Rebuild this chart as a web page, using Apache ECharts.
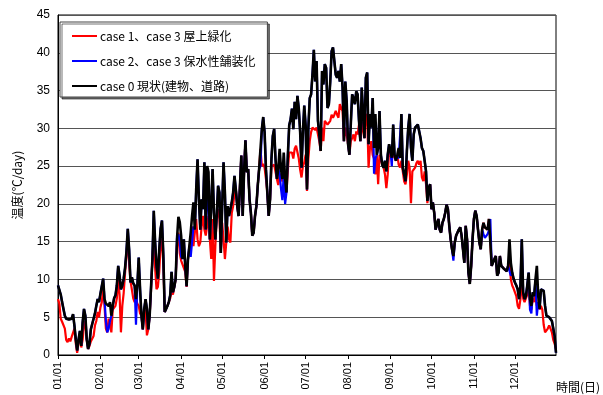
<!DOCTYPE html>
<html>
<head>
<meta charset="utf-8">
<script src="https://cdn.jsdelivr.net/npm/echarts@6/dist/echarts.min.js"></script>
<style>
html,body{margin:0;padding:0;background:#fff;}
#chart{width:603px;height:395px;}
</style>
</head>
<body>
<div id="chart"></div>
<script>
// Daily temperature index (℃/day) over one year, three scenarios.
const monthDays = [31, 28, 31, 30, 31, 30, 31, 31, 30, 31, 30, 31];
const days = [];
monthDays.forEach(function (n, m) {
  for (let d = 1; d <= n; d++) {
    days.push(String(m + 1).padStart(2, '0') + '/' + String(d).padStart(2, '0'));
  }
});

const seriesNames = [
  'case 1、case 3 屋上緑化',
  'case 2、case 3 保水性舗装化',
  'case 0 現状(建物、道路)'
];

// case 0: current state (buildings, roads)
const case0 = [
  9.2, 9.0, 8.0, 7.0, 6.1, 5.2, 4.8, 4.6, 4.7, 4.5,
  4.8, 5.4, 3.9, 2.1, 0.6, 2.0, 3.2, 1.2, 4.3, 6.1,
  5.2, 2.1, 0.8, 1.5, 3.4, 4.1, 4.8, 5.5, 6.5, 7.4,
  7.0, 8.1, 7.9, 10.1, 7.4, 6.8, 7.0, 6.5, 7.0, 5.2,
  6.5, 7.5, 7.9, 9.2, 11.8, 10.5, 8.7, 9.2, 10.1, 11.5,
  13.6, 16.7, 14.0, 9.6, 10.3, 9.5, 9.2, 7.4, 9.2, 12.9,
  8.7, 5.2, 3.4, 6.1, 7.4, 6.1, 3.4, 5.2, 9.0, 12.7,
  19.1, 14.9, 11.8, 10.1, 14.0, 16.7, 17.8, 13.2, 5.7, 5.7,
  6.5, 7.0, 7.9, 11.0, 8.3, 9.0, 10.1, 15.4, 18.3, 17.6,
  15.8, 12.7, 15.3, 11.8, 9.1, 12.7, 14.4, 16.2, 18.4, 20.2,
  16.6, 21.9, 25.9, 20.6, 16.6, 20.6, 19.3, 25.5, 16.6, 25.0,
  24.2, 15.3, 19.7, 24.6, 18.8, 15.3, 18.4, 22.4, 21.5, 13.5,
  19.7, 25.5, 21.5, 14.9, 19.7, 18.4, 19.3, 20.2, 21.5, 23.7,
  21.9, 19.7, 18.4, 22.4, 26.4, 18.4, 24.2, 28.4, 24.2, 24.6,
  20.6, 18.8, 15.8, 16.2, 18.4, 19.7, 22.4, 24.6, 27.3, 29.9,
  31.5, 29.5, 24.6, 21.5, 18.4, 20.6, 25.9, 29.0, 29.9, 25.9,
  23.3, 24.6, 27.3, 24.6, 23.3, 26.8, 23.3, 21.5, 26.4, 30.4,
  31.2, 32.6, 29.9, 33.5, 31.2, 34.3, 32.6, 29.5, 24.8, 29.5,
  33.0, 30.4, 21.9, 30.1, 34.0, 34.5, 37.1, 40.4, 36.2, 38.9,
  31.0, 29.2, 27.0, 37.6, 35.8, 38.5, 38.0, 32.7, 33.2, 36.2,
  40.2, 40.7, 38.9, 37.1, 36.7, 37.6, 36.2, 38.5, 35.4, 28.3,
  36.2, 33.6, 27.9, 26.5, 30.5, 34.5, 34.0, 33.2, 34.9, 34.5,
  31.0, 28.3, 35.4, 31.9, 28.7, 36.7, 37.4, 27.9, 31.9, 30.1,
  34.0, 27.4, 31.9, 26.5, 27.4, 32.3, 26.5, 25.2, 24.8, 25.7,
  24.3, 26.5, 27.9, 27.0, 26.1, 30.5, 26.5, 25.7, 26.5, 27.4,
  26.1, 31.9, 24.8, 23.9, 23.0, 27.0, 30.1, 31.9, 27.4, 25.7,
  29.2, 30.1, 30.3, 30.5, 30.5, 28.7, 27.4, 27.0, 25.7, 24.3,
  20.4, 22.1, 22.6, 19.3, 20.2, 18.8, 16.6, 16.4, 18.0, 16.6,
  16.2, 17.5, 18.0, 18.8, 19.9, 19.3, 17.1, 15.3, 14.0, 13.1,
  14.9, 15.8, 15.8, 16.6, 16.9, 15.8, 14.0, 12.2, 17.1, 15.3,
  10.9, 9.4, 11.8, 15.3, 18.0, 19.1, 18.4, 16.6, 14.9, 14.0,
  16.6, 17.5, 16.9, 16.9, 16.6, 18.0, 18.0, 11.8, 11.6, 12.7,
  13.1, 10.5, 10.9, 13.1, 11.8, 11.6, 11.4, 11.4, 11.1, 11.8,
  15.3, 12.2, 10.9, 10.1, 9.6, 9.2, 8.7, 7.4, 9.2, 15.3,
  8.3, 7.4, 7.8, 9.2, 10.9, 7.4, 6.5, 8.3, 7.8, 10.0,
  11.8, 7.8, 6.1, 8.7, 8.5, 8.5, 6.5, 5.2, 5.0, 5.0,
  4.8, 4.5, 4.7, 2.5, 0.3
];

// case 1 + case 3: rooftop greening
const case1 = [
  7.4, 6.8, 4.8, 4.4, 4.3, 3.5, 2.0, 1.7, 2.2, 1.8,
  2.4, 2.5, 3.5, 1.5, 0.3, 0.4, 2.8, 1.0, 2.0, 4.0,
  4.5, 2.0, 0.8, 1.2, 1.8, 2.0, 2.5, 3.9, 4.5, 5.7,
  5.0, 6.3, 7.0, 8.8, 6.5, 3.5, 3.0, 4.8, 4.0, 3.0,
  6.0, 6.2, 6.5, 7.5, 10.0, 8.0, 3.0, 6.5, 8.2, 10.8,
  13.2, 15.4, 12.0, 9.8, 10.0, 7.5, 7.0, 7.4, 6.8, 6.5,
  5.5, 5.2, 3.4, 6.1, 5.8, 2.6, 3.4, 5.2, 8.5, 12.5,
  15.8, 11.5, 8.7, 9.0, 11.0, 14.5, 15.4, 12.0, 5.7, 5.7,
  6.5, 7.0, 7.5, 8.5, 8.0, 9.0, 10.0, 14.5, 16.2, 13.5,
  12.5, 12.0, 11.8, 11.0, 9.0, 12.7, 12.7, 15.3, 17.0, 14.4,
  16.2, 18.0, 15.3, 14.4, 14.9, 17.1, 18.4, 16.6, 15.8, 17.1,
  18.4, 15.3, 12.7, 18.0, 9.8, 14.4, 18.4, 19.3, 18.0, 13.5,
  17.5, 15.3, 12.7, 14.9, 17.0, 15.3, 14.9, 18.8, 19.7, 21.5,
  21.9, 19.7, 18.4, 22.4, 26.4, 18.4, 24.2, 28.4, 24.2, 24.6,
  20.6, 18.8, 15.8, 16.2, 18.4, 19.7, 22.4, 24.6, 27.3, 25.0,
  25.3, 24.8, 23.3, 21.5, 18.4, 20.6, 25.0, 25.0, 25.2, 24.2,
  23.3, 22.5, 24.0, 23.3, 23.0, 23.5, 22.5, 21.5, 24.5, 26.8,
  26.8, 26.8, 26.0, 27.3, 27.7, 27.7, 26.0, 24.5, 23.5, 25.0,
  25.5, 26.5, 21.7, 26.0, 28.3, 29.5, 30.1, 30.3, 29.8, 30.1,
  29.2, 28.3, 27.0, 30.1, 28.3, 31.0, 31.0, 30.5, 30.5, 31.0,
  31.8, 31.4, 31.8, 32.3, 31.8, 31.4, 33.2, 32.7, 32.3, 28.3,
  30.1, 29.2, 27.9, 26.5, 28.3, 28.7, 29.2, 28.3, 29.6, 29.2,
  30.5, 28.3, 29.6, 30.8, 28.7, 31.9, 31.4, 24.8, 27.4, 28.3,
  26.5, 26.0, 23.9, 26.5, 22.6, 26.5, 26.5, 25.2, 24.8, 23.9,
  22.1, 23.9, 27.0, 27.0, 26.1, 26.5, 26.1, 25.7, 26.5, 25.2,
  24.8, 25.7, 24.3, 23.0, 22.6, 23.9, 25.7, 24.8, 20.1, 24.3,
  24.3, 24.8, 25.4, 25.7, 25.2, 25.7, 23.5, 23.0, 24.3, 22.6,
  20.1, 22.1, 22.6, 19.3, 20.2, 18.8, 16.6, 16.4, 18.0, 16.6,
  16.2, 17.5, 18.0, 18.8, 19.9, 19.3, 17.1, 15.3, 14.0, 13.1,
  14.9, 15.8, 15.8, 16.6, 16.9, 15.8, 14.0, 12.2, 17.1, 15.3,
  10.9, 9.4, 11.8, 15.3, 18.0, 19.1, 18.4, 16.6, 14.9, 14.0,
  16.6, 17.5, 16.9, 16.9, 16.6, 18.0, 18.0, 11.8, 11.6, 12.7,
  13.1, 10.5, 10.9, 13.1, 11.8, 11.6, 11.4, 11.4, 11.1, 11.8,
  12.5, 10.0, 9.2, 8.8, 8.3, 7.8, 6.5, 6.1, 7.4, 10.0,
  7.5, 7.0, 6.8, 8.0, 9.5, 6.5, 6.0, 7.5, 7.0, 8.0,
  6.5, 7.0, 6.0, 6.5, 6.0, 4.0, 3.0, 2.8, 3.5, 3.9,
  3.5, 3.0, 2.0, 1.5, 0.8
];

// case 2 + case 3: water-retaining pavement
const case2 = [
  9.2, 9.0, 8.0, 7.0, 6.1, 5.2, 4.8, 4.6, 4.7, 4.5,
  4.8, 5.4, 3.9, 2.1, 0.6, 2.0, 3.2, 1.2, 4.3, 6.1,
  5.2, 2.1, 0.8, 1.5, 3.4, 4.1, 4.8, 5.5, 6.5, 7.4,
  7.0, 8.1, 7.9, 10.1, 7.4, 4.5, 3.0, 3.5, 4.5, 5.2,
  6.5, 7.5, 7.9, 9.2, 11.8, 10.5, 8.7, 9.2, 10.1, 11.5,
  13.6, 16.7, 14.0, 9.6, 10.3, 9.5, 9.2, 4.0, 9.2, 12.9,
  8.7, 5.2, 3.4, 6.1, 7.4, 6.1, 3.4, 5.2, 9.0, 12.7,
  19.1, 14.9, 11.8, 10.1, 14.0, 16.7, 17.8, 13.2, 5.7, 5.7,
  6.5, 7.0, 7.9, 11.0, 8.3, 9.0, 10.1, 15.4, 16.0, 15.0,
  13.0, 12.7, 15.3, 11.8, 9.1, 12.7, 14.4, 13.0, 15.0, 17.0,
  16.6, 21.9, 25.9, 20.6, 16.6, 20.6, 19.3, 25.5, 16.6, 21.0,
  20.0, 15.3, 19.7, 24.6, 18.8, 15.3, 18.4, 22.4, 21.5, 13.5,
  19.7, 25.5, 21.5, 14.9, 19.7, 18.4, 19.3, 20.2, 21.5, 23.7,
  21.9, 19.7, 18.4, 22.4, 26.4, 18.4, 24.2, 28.4, 24.2, 24.6,
  20.6, 18.8, 15.8, 16.2, 18.4, 19.7, 22.4, 24.6, 25.0, 29.9,
  31.5, 29.5, 24.6, 21.5, 18.4, 20.6, 25.9, 29.0, 29.9, 25.9,
  23.3, 24.6, 24.0, 22.0, 20.5, 24.0, 20.0, 21.5, 26.4, 30.4,
  31.2, 32.6, 29.9, 33.5, 31.2, 34.3, 32.6, 29.5, 24.8, 29.5,
  33.0, 30.4, 21.9, 30.1, 34.0, 34.5, 37.1, 40.4, 36.2, 38.9,
  31.0, 29.2, 27.0, 37.6, 35.8, 38.5, 38.0, 32.7, 33.2, 36.2,
  40.2, 40.7, 38.9, 37.1, 36.7, 37.6, 36.2, 38.5, 35.4, 28.3,
  36.2, 33.6, 27.9, 26.5, 30.5, 34.5, 34.0, 33.2, 34.9, 34.5,
  31.0, 28.3, 35.4, 31.9, 28.7, 36.7, 37.4, 27.9, 31.9, 30.1,
  34.0, 24.0, 26.0, 26.5, 27.4, 32.3, 26.5, 25.2, 24.8, 25.7,
  24.3, 26.5, 27.9, 27.0, 25.0, 30.5, 26.5, 25.7, 26.5, 26.0,
  26.1, 31.9, 24.8, 23.9, 23.0, 27.0, 30.1, 31.9, 27.4, 25.7,
  29.2, 30.1, 30.3, 30.5, 30.5, 28.7, 27.4, 27.0, 25.7, 24.3,
  20.4, 22.1, 22.6, 19.3, 20.2, 18.8, 16.6, 16.4, 18.0, 16.6,
  16.2, 17.5, 18.0, 18.8, 19.9, 19.3, 17.1, 15.3, 14.0, 12.5,
  14.9, 15.8, 15.8, 16.6, 16.9, 15.8, 14.0, 12.2, 17.1, 15.3,
  10.9, 9.4, 11.8, 15.3, 18.0, 19.1, 18.4, 16.6, 14.9, 14.0,
  16.6, 16.0, 15.5, 15.5, 16.0, 16.5, 18.0, 11.8, 11.6, 12.7,
  13.1, 10.5, 10.9, 13.1, 11.8, 11.6, 11.4, 11.4, 11.1, 11.8,
  12.0, 10.5, 10.9, 10.1, 9.6, 9.2, 8.7, 7.4, 9.2, 15.3,
  8.3, 7.4, 7.8, 9.2, 10.9, 6.0, 5.5, 8.3, 7.8, 10.0,
  5.2, 7.0, 6.1, 8.7, 8.5, 8.5, 6.5, 5.2, 5.0, 5.0,
  4.8, 4.5, 4.7, 2.5, 0.3
];

const yMin = 0, yMax = 45, yStep = 5;
const seriesColors = ['#ff0000', '#0000ff', '#000000'];

const chart = echarts.init(document.getElementById('chart'), null, { renderer: 'canvas' });

const isMonthStart = function (idx) { return days[idx].slice(3) === '01'; };

chart.setOption({
  animation: false,
  backgroundColor: '#ffffff',
  textStyle: { fontFamily: '"Noto Sans CJK JP", "Liberation Sans", sans-serif' },
  grid: {
    left: 58, right: 47, top: 15, bottom: 40,
    show: true, borderColor: '#000', borderWidth: 1
  },
  legend: {
    data: seriesNames,
    orient: 'vertical',
    left: 60, top: 22,
    itemWidth: 25, itemHeight: 2, itemGap: 13,
    icon: 'rect',
    padding: [8, 12, 5, 12],
    backgroundColor: '#ffffff',
    borderColor: '#444', borderWidth: 1,
    shadowColor: 'rgba(0,0,0,0.55)', shadowOffsetX: 2, shadowOffsetY: 2, shadowBlur: 0,
    selectedMode: false,
    textStyle: { fontSize: 12, color: '#000', fontFamily: '"Noto Sans CJK JP", sans-serif', padding: [0, 0, 0, -2] }
  },
  xAxis: {
    type: 'category',
    data: days,
    boundaryGap: false,
    axisLine: { lineStyle: { color: '#000', width: 1 } },
    axisTick: { show: true, interval: isMonthStart, length: 4, lineStyle: { color: '#000' } },
    axisLabel: {
      interval: isMonthStart, rotate: 90, margin: 7,
      fontSize: 11, color: '#000', fontFamily: '"Liberation Sans", sans-serif'
    },
    splitLine: { show: false }
  },
  yAxis: {
    type: 'value',
    min: yMin, max: yMax, interval: yStep,
    name: '温度(℃/day)',
    nameLocation: 'middle', nameRotate: 90, nameGap: 35,
    nameTextStyle: { fontSize: 12, color: '#000', fontFamily: '"Noto Sans CJK JP", sans-serif' },
    axisLine: { show: true, lineStyle: { color: '#000', width: 1 } },
    axisTick: { show: false },
    axisLabel: { fontSize: 12, color: '#000', margin: 8, fontFamily: '"Liberation Sans", sans-serif' },
    splitLine: { show: true, lineStyle: { color: '#555', width: 1 } }
  },
  graphic: [{
    type: 'text', right: 3, bottom: 2,
    style: { text: '時間(日)', fontSize: 12, fill: '#000', fontFamily: '"Noto Sans CJK JP", sans-serif' }
  }],
  series: [
    { name: seriesNames[0], type: 'line', data: case1, showSymbol: false, z: 2,
      itemStyle: { color: seriesColors[0] }, lineStyle: { color: seriesColors[0], width: 2.2 } },
    { name: seriesNames[1], type: 'line', data: case2, showSymbol: false, z: 3,
      itemStyle: { color: seriesColors[1] }, lineStyle: { color: seriesColors[1], width: 2.2 } },
    { name: seriesNames[2], type: 'line', data: case0, showSymbol: false, z: 4,
      itemStyle: { color: seriesColors[2] }, lineStyle: { color: seriesColors[2], width: 2.6 } }
  ]
});
</script>
</body>
</html>
